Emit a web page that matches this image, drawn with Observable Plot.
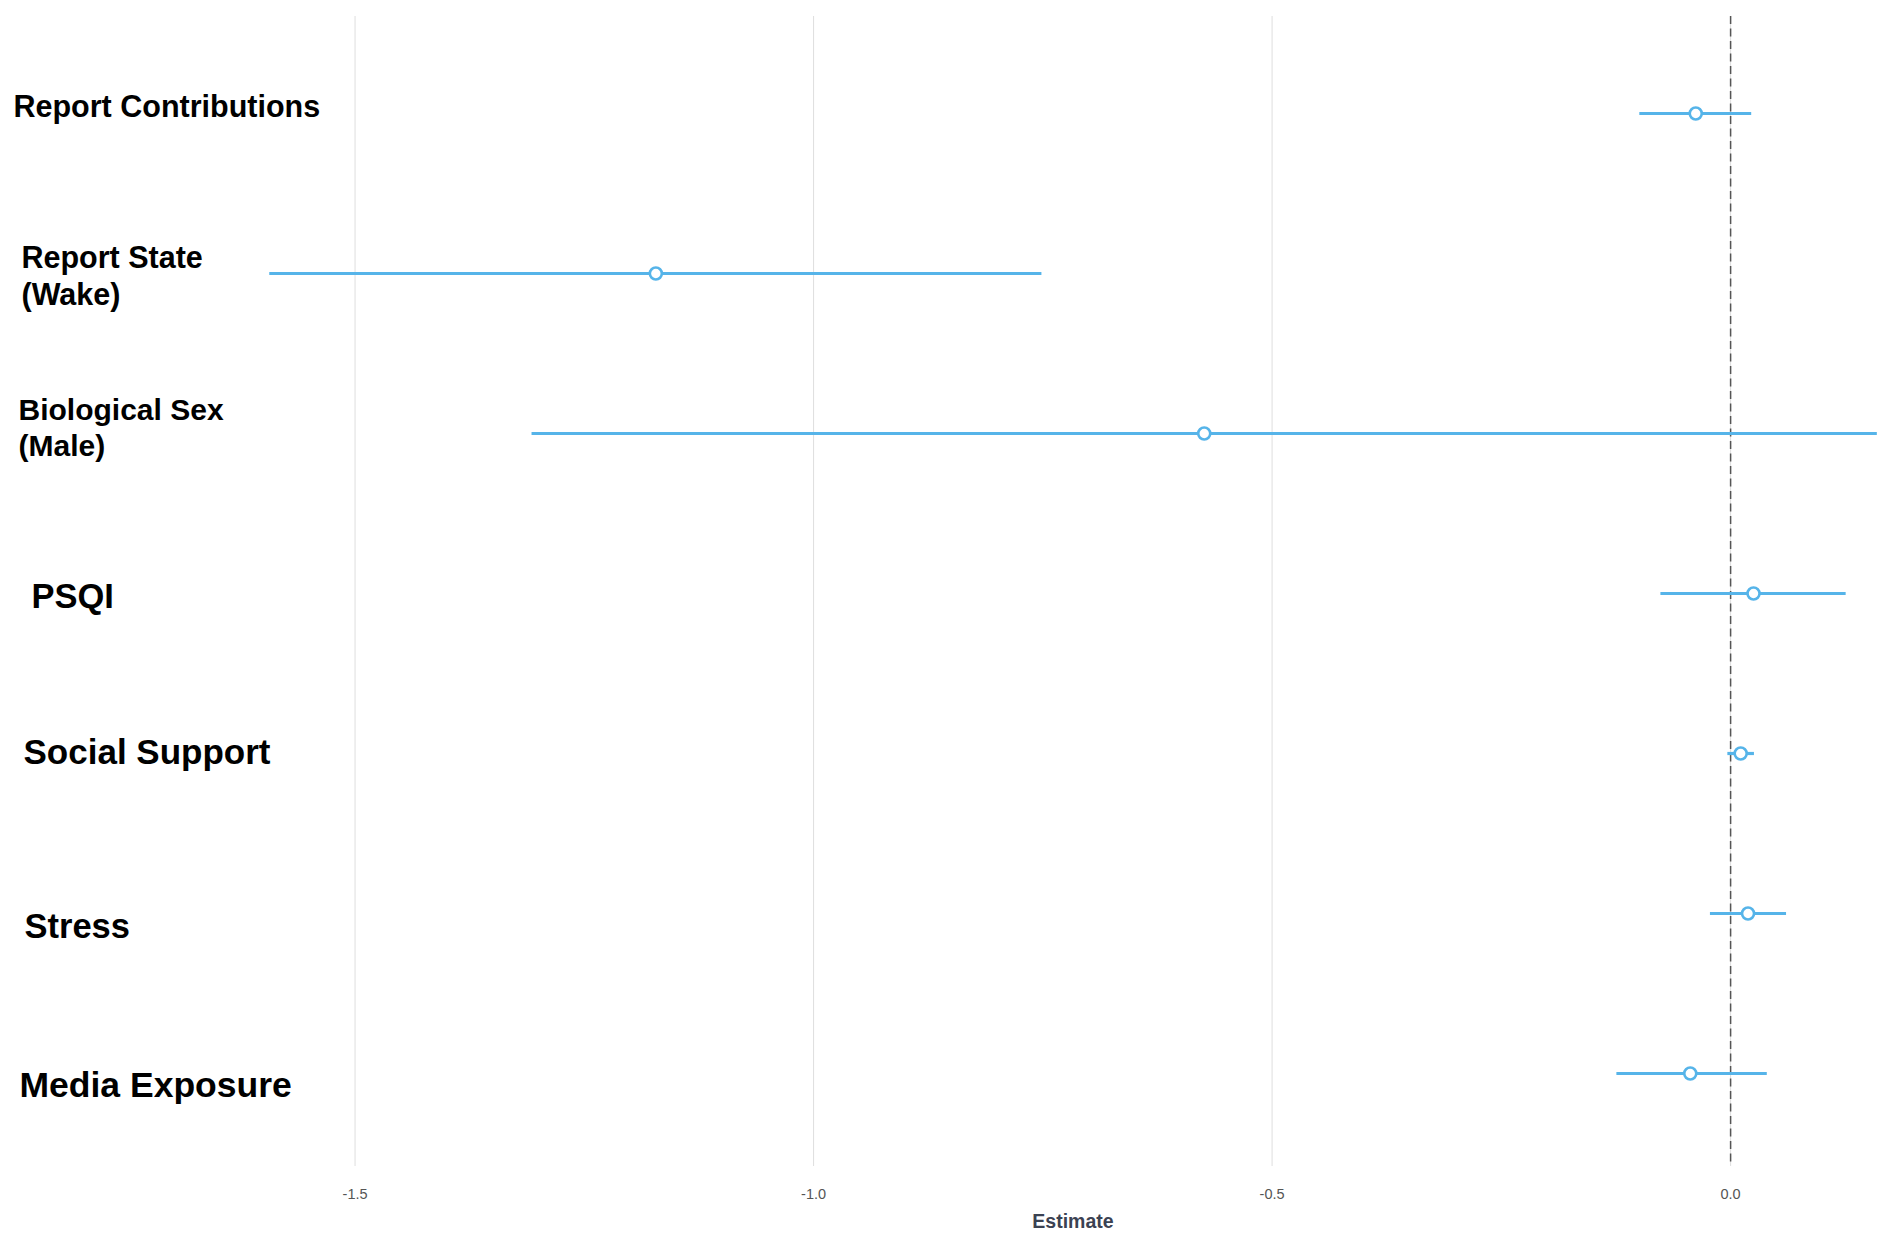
<!DOCTYPE html>
<html>
<head>
<meta charset="utf-8">
<script src="https://cdn.jsdelivr.net/npm/d3@7"></script>
<script src="https://cdn.jsdelivr.net/npm/@observablehq/plot@0.6"></script>
<style>
  html, body { margin: 0; padding: 0; background: #ffffff; }
  #chart svg { display: block; }
</style>
</head>
<body>
<div id="chart"></div>
<script>
// ---------------- data ----------------
const terms = [
  "Report Contributions",
  "Report State (Wake)",
  "Biological Sex (Male)",
  "PSQI",
  "Social Support",
  "Stress",
  "Media Exposure"
];
const termLabels = [
  "Report Contributions",
  "Report State\n(Wake)",
  "Biological Sex\n(Male)",
  "PSQI",
  "Social Support",
  "Stress",
  "Media Exposure"
];
const estimates = [-0.038, -1.172, -0.574, 0.025, 0.011, 0.019, -0.044];
const lowerCI   = [-0.099, -1.593, -1.307, -0.076, -0.003, -0.022, -0.124];
const upperCI   = [ 0.023, -0.751,  0.160,  0.126,  0.026,  0.061,  0.040];
const xTicks = [-1.5, -1.0, -0.5, 0.0];
const xTitle = "Estimate";

// ---------------- style ----------------
const W = 1902, H = 1249;
const M = { top: 16, bottom: 83, left: 217, right: 16 };
const blue = "#56B4E9";
const labelFont = "'Liberation Sans', Arial, Helvetica, sans-serif";
// per-label typographic tweaks (left edge in px, vertical nudge, size)
const labelStyle = [
  { left: 13, dy: -8.5, size: 30.5 },
  { left: 21, dy: 1.5,  size: 30.5 },
  { left: 18, dy: -7.5, size: 30 },
  { left: 31, dy: 1,    size: 34.5 },
  { left: 23, dy: -3,   size: 35 },
  { left: 24, dy: 11,   size: 34.5 },
  { left: 19, dy: 10,   size: 35.5 }
];

const rows = terms.map((t, i) => ({
  term: t, label: termLabels[i], est: estimates[i], lo: lowerCI[i], hi: upperCI[i]
}));

const labelMarks = rows.map((r, i) => Plot.text([r], {
  y: "term",
  text: "label",
  frameAnchor: "left",
  textAnchor: "start",
  lineAnchor: "middle",
  lineHeight: 1.2,
  dx: labelStyle[i].left - M.left,
  dy: labelStyle[i].dy,
  fontSize: labelStyle[i].size,
  fontWeight: "bold",
  fontFamily: labelFont,
  fill: "#000000"
}));

const chart = Plot.plot({
  width: W,
  height: H,
  marginTop: M.top,
  marginBottom: M.bottom,
  marginLeft: M.left,
  marginRight: M.right,
  style: { fontFamily: labelFont, background: "#ffffff", overflow: "visible" },
  x: { domain: [-1.65, 0.17] },
  y: { type: "point", domain: terms, padding: 0.57, insetTop: 4, axis: null },
  marks: [
    Plot.gridX(xTicks, { stroke: "#dedede", strokeOpacity: 1, strokeWidth: 1 }),
    Plot.ruleX([0], { stroke: "#555555", strokeWidth: 1.5, strokeDasharray: "8,4.5" }),
    Plot.ruleY(rows, { y: "term", x1: "lo", x2: "hi", stroke: blue, strokeWidth: 3.2 }),
    Plot.dot(rows, { x: "est", y: "term", r: 6, fill: "#ffffff", stroke: blue, strokeWidth: 2.6 }),
    Plot.axisX(xTicks, {
      tickSize: 0, tickPadding: 22, tickFormat: d => d.toFixed(1),
      fontSize: 14.5, fill: "#555555", label: null
    }),
    Plot.text([xTitle], {
      text: d => d, frameAnchor: "bottom", dx: 21, dy: 61.5,
      fontSize: 19.5, fontWeight: "bold", fill: "#3b4252"
    }),
    ...labelMarks
  ]
});

document.getElementById("chart").appendChild(chart);
</script>
</body>
</html>
